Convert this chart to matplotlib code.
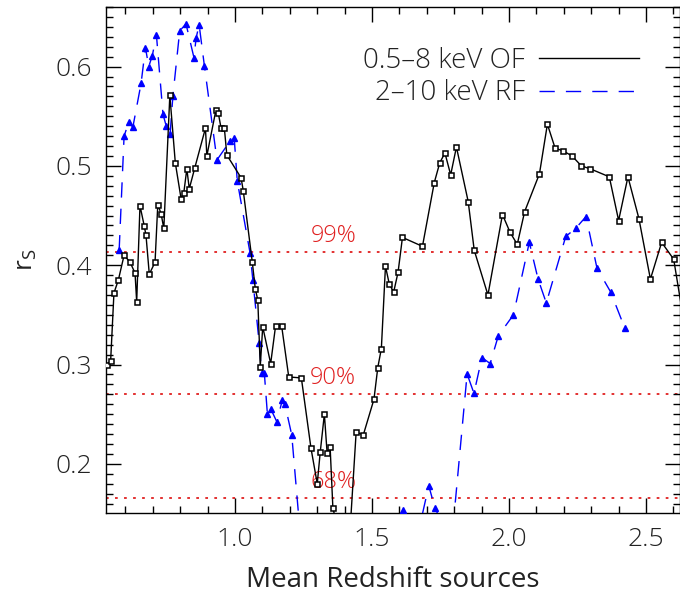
import matplotlib
matplotlib.use("Agg")
import matplotlib.pyplot as plt
from matplotlib.lines import Line2D
from matplotlib.ticker import MultipleLocator, FormatStrFormatter

plt.rcParams["font.family"] = ["Open Sans", "DejaVu Sans"]
plt.rcParams["font.weight"] = "light"
plt.rcParams["mathtext.default"] = "regular"

TXT = "#222222"

# 0.5-8 keV OF (black, open squares)
of_z = [0.533, 0.546, 0.558, 0.574, 0.595, 0.617, 0.635, 0.641, 0.653, 0.669,
        0.675, 0.687, 0.708, 0.718, 0.730, 0.740, 0.762, 0.782, 0.803, 0.813,
        0.824, 0.833, 0.853, 0.892, 0.897, 0.930, 0.939, 0.949, 0.961, 0.970,
        1.022, 1.030, 1.063, 1.074, 1.083, 1.092, 1.101, 1.130, 1.148, 1.170,
        1.196, 1.242, 1.277, 1.300, 1.311, 1.326, 1.336, 1.347, 1.357, 1.410,
        1.442, 1.468, 1.507, 1.521, 1.534, 1.549, 1.563, 1.579, 1.595, 1.611,
        1.684, 1.727, 1.747, 1.766, 1.787, 1.808, 1.851, 1.873, 1.923, 1.976,
        2.004, 2.030, 2.057, 2.111, 2.140, 2.168, 2.198, 2.230, 2.264, 2.297,
        2.366, 2.400, 2.434, 2.474, 2.516, 2.557, 2.601, 2.640]
of_rs = [0.300, 0.304, 0.372, 0.385, 0.410, 0.403, 0.392, 0.363, 0.460, 0.439,
         0.430, 0.391, 0.403, 0.461, 0.452, 0.437, 0.571, 0.503, 0.467, 0.473,
         0.497, 0.477, 0.498, 0.538, 0.510, 0.556, 0.553, 0.538, 0.538, 0.511,
         0.488, 0.475, 0.403, 0.376, 0.365, 0.298, 0.338, 0.301, 0.339, 0.339,
         0.2875, 0.2865, 0.216, 0.180, 0.212, 0.250, 0.211, 0.217, 0.156, 0.090,
         0.232, 0.229, 0.265, 0.297, 0.316, 0.399, 0.381, 0.373, 0.393, 0.428,
         0.419, 0.483, 0.503, 0.513, 0.491, 0.519, 0.464, 0.415, 0.370, 0.451,
         0.433, 0.421, 0.454, 0.492, 0.542, 0.518, 0.515, 0.510, 0.500, 0.497,
         0.489, 0.445, 0.489, 0.447, 0.386, 0.423, 0.406, 0.340]

# 2-10 keV RF (blue, triangles)
rf_z = [0.577, 0.595, 0.612, 0.627, 0.657, 0.673, 0.685, 0.698, 0.713, 0.737,
        0.749, 0.763, 0.773, 0.798, 0.821, 0.850, 0.858, 0.869, 0.888, 0.934,
        0.982, 0.997, 1.008, 1.055, 1.065, 1.088, 1.097, 1.107, 1.118, 1.130,
        1.153, 1.172, 1.182, 1.207, 1.250, 1.420, 1.585, 1.614, 1.660, 1.707,
        1.729, 1.790, 1.847, 1.872, 1.901, 1.931, 1.961, 2.016, 2.074, 2.106,
        2.136, 2.207, 2.243, 2.281, 2.321, 2.371, 2.422]
rf_rs = [0.415, 0.530, 0.544, 0.539, 0.583, 0.619, 0.600, 0.611, 0.632, 0.552,
         0.540, 0.532, 0.570, 0.636, 0.643, 0.609, 0.629, 0.642, 0.601, 0.506,
         0.525, 0.528, 0.485, 0.412, 0.385, 0.322, 0.291, 0.291, 0.2505, 0.2556,
         0.242, 0.264, 0.260, 0.229, 0.090, 0.080, 0.110, 0.154, 0.120, 0.178,
         0.156, 0.120, 0.2905, 0.271, 0.307, 0.301, 0.329, 0.350, 0.423, 0.386,
         0.362, 0.429, 0.437, 0.449, 0.397, 0.373, 0.337]

# significance levels
sig_labels = ["99%", "90%", "68%"]
sig_levels = [0.413, 0.2705, 0.1655]

RED = "#e02020"

fig = plt.figure(figsize=(6.8, 5.97), dpi=100)
ax = fig.add_axes([106 / 680, 1 - 513 / 597, 574 / 680, 506 / 597])

for lab, lev in zip(sig_labels, sig_levels):
    ax.axhline(lev, color=RED, lw=1.3, linestyle=(0, (1.5, 3.5)), zorder=1)
    ax.text(1.358, lev + 0.004, lab, color=RED, fontsize=17,
            ha="center", va="bottom", zorder=2)

ax.plot(of_z, of_rs, color="black", lw=1.0, marker="s", ms=3.6,
        mfc="white", mec="black", mew=1.1, zorder=4)
ax.plot(rf_z, rf_rs, color="#0000ff", lw=1.0, linestyle=(0, (11, 8)),
        marker="^", ms=5, mfc="#0000ff", mec="#0000ff", zorder=3)

ax.set_xlim(0.529, 2.624)
ax.set_ylim(0.1505, 0.660)

ax.xaxis.set_major_locator(MultipleLocator(0.5))
ax.xaxis.set_minor_locator(MultipleLocator(0.1))
ax.yaxis.set_major_locator(MultipleLocator(0.1))
ax.yaxis.set_minor_locator(MultipleLocator(0.01))
ax.tick_params(which="both", direction="in", top=True, right=True,
               labelsize=19, width=1.0, pad=10, labelcolor=TXT)
ax.tick_params(which="major", length=11)
ax.tick_params(which="minor", length=5)
ax.xaxis.set_major_formatter(FormatStrFormatter("%.1f"))
ax.yaxis.set_major_formatter(FormatStrFormatter("%.1f"))
for s in ax.spines.values():
    s.set_linewidth(1.0)

ax.set_xlabel("Mean Redshift sources", fontsize=20, labelpad=10, color=TXT)
ax.set_ylabel("r$_S$", fontsize=19, labelpad=12, color=TXT)

handles = [Line2D([], [], color="black", lw=1.0),
           Line2D([], [], color="#0000ff", lw=1.0, linestyle=(0, (11, 8)))]
leg = ax.legend(handles, ["0.5\u20138 keV OF", "2\u201310 keV RF"], loc="upper right",
                bbox_to_anchor=(650 / 680, 1 - 36 / 597), bbox_transform=fig.transFigure,
                frameon=False, fontsize=20, markerfirst=False, handlelength=3.6,
                handletextpad=0.5, labelspacing=0.15, borderaxespad=0)
for t in leg.get_texts():
    t.set_color(TXT)

fig.savefig("out.png", dpi=100)
